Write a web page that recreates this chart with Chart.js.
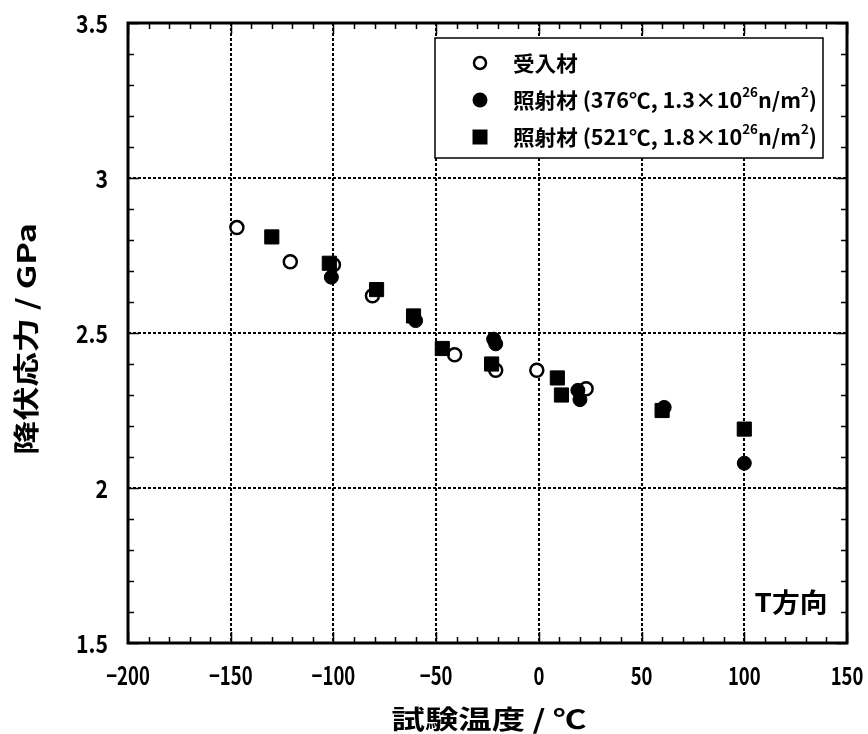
<!DOCTYPE html>
<html>
<head>
<meta charset="utf-8">
<script src="https://cdn.jsdelivr.net/npm/chart.js@4"></script>
<style>
  html, body { margin: 0; padding: 0; background: #fff; }
  canvas { display: block; }
</style>
</head>
<body>
<canvas id="chart" width="868" height="734"></canvas>
<script>
// ── Data (test temperature °C, yield stress GPa) ──
const asReceivedX = [-147, -121, -100, -81, -41, -21, -1, 23];
const asReceivedY = [2.84, 2.73, 2.72, 2.62, 2.43, 2.38, 2.38, 2.32];

const irr376X = [-101, -60, -22, -21, 19, 20, 61, 100];
const irr376Y = [2.68, 2.54, 2.48, 2.465, 2.315, 2.285, 2.26, 2.08];

const irr521X = [-130, -102, -79, -61, -47, -23, 9, 11, 60, 100];
const irr521Y = [2.81, 2.725, 2.64, 2.555, 2.45, 2.40, 2.355, 2.30, 2.25, 2.19];

const xTicks = [-200, -150, -100, -50, 0, 50, 100, 150];
const xTickLabels = ['−200', '−150', '−100', '−50', '0', '50', '100', '150'];
const yTicks = [1.5, 2, 2.5, 3, 3.5];
const yTickLabels = ['1.5', '2', '2.5', '3', '3.5'];

const xTitle = '試験温度 / ℃';
const yTitle = '降伏応力 / GPa';
const noteText = 'T方向';

// legend rows: [text, isSuperscript]
const legendRows = [
  [['受入材', false]],
  [['照射材 (376℃, 1.3×10', false], ['26', true], ['n/m', false], ['2', true], [')', false]],
  [['照射材 (521℃, 1.8×10', false], ['26', true], ['n/m', false], ['2', true], [')', false]],
];
const legendMarkers = ['open', 'filled', 'square'];

const JP = "'Noto Sans CJK JP', sans-serif";

const toPoints = (xs, ys) => xs.map((x, i) => ({ x, y: ys[i] }));

// ── Helpers ────────────────────────────────────────────────────────
function fitText(ctx, text, cx, cy, width, rot) {
  ctx.save();
  ctx.translate(cx, cy);
  ctx.rotate(rot || 0);
  const w = ctx.measureText(text).width;
  ctx.scale(width / w, 1);
  ctx.fillText(text, 0, 0);
  ctx.restore();
}

// narrow text, like the condensed digits of the original
function narrowText(ctx, text, x, y, sx) {
  ctx.save();
  ctx.translate(x, y);
  ctx.scale(sx, 1);
  ctx.fillText(text, 0, 0);
  ctx.restore();
}

function richWidth(ctx, segs, size) {
  let w = 0;
  segs.forEach(([t, sup]) => {
    ctx.font = `bold ${sup ? Math.round(size * 0.6) : size}px ${JP}`;
    w += ctx.measureText(t).width;
  });
  return w;
}

function drawRich(ctx, segs, x, y, size) {
  segs.forEach(([t, sup]) => {
    ctx.font = `bold ${sup ? Math.round(size * 0.6) : size}px ${JP}`;
    ctx.fillText(t, x, sup ? y - size * 0.38 : y);
    x += ctx.measureText(t).width;
  });
}

function drawMarker(ctx, kind, x, y) {
  ctx.save();
  ctx.fillStyle = '#000';
  ctx.strokeStyle = '#000';
  ctx.lineWidth = 2.5;
  ctx.beginPath();
  if (kind === 'open') {
    ctx.arc(x, y, 6, 0, Math.PI * 2);
    ctx.stroke();
  } else if (kind === 'filled') {
    ctx.arc(x, y, 7.5, 0, Math.PI * 2);
    ctx.fill();
  } else {
    ctx.rect(x - 7.5, y - 7.5, 15, 15);
    ctx.fill();
  }
  ctx.restore();
}

// ── Frame, inward ticks, tick labels, legend and titles ────────────
const decor = {
  id: 'decor',
  beforeDatasetsDraw(chart) {
    const { ctx, chartArea: a, scales: { x, y } } = chart;
    ctx.save();
    ctx.strokeStyle = '#000';
    ctx.lineWidth = 1.5;
    ctx.beginPath();
    for (let i = 0; i <= 35; i++) {
      const v = -200 + i * 10;
      const px = Math.round(x.getPixelForValue(v)) + 0.5;
      const len = v % 50 === 0 ? 11 : 6;
      ctx.moveTo(px, a.bottom); ctx.lineTo(px, a.bottom - len);
      ctx.moveTo(px, a.top); ctx.lineTo(px, a.top + len);
    }
    for (let i = 0; i <= 20; i++) {
      const v = 1.5 + i * 0.1;
      const py = Math.round(y.getPixelForValue(v)) + 0.5;
      const len = i % 5 === 0 ? 11 : 6;
      ctx.moveTo(a.left, py); ctx.lineTo(a.left + len, py);
      ctx.moveTo(a.right, py); ctx.lineTo(a.right - len, py);
    }
    ctx.stroke();
    ctx.lineWidth = 3;
    ctx.strokeRect(a.left, a.top, a.right - a.left, a.bottom - a.top);

    // tick labels
    ctx.fillStyle = '#000';
    ctx.font = `bold 25px ${JP}`;
    ctx.textBaseline = 'middle';
    ctx.textAlign = 'center';
    xTicks.forEach((v, i) => narrowText(ctx, xTickLabels[i], x.getPixelForValue(v), a.bottom + 32, 0.74));
    ctx.textAlign = 'right';
    yTicks.forEach((v, i) => narrowText(ctx, yTickLabels[i], a.left - 20, y.getPixelForValue(v), 0.85));
    ctx.restore();
  },
  afterDraw(chart) {
    const { ctx } = chart;
    ctx.save();

    // legend box
    const bx = 435, by = 38, bw = 388, bh = 120;
    ctx.fillStyle = '#fff';
    ctx.fillRect(bx, by, bw, bh);
    ctx.strokeStyle = '#000';
    ctx.lineWidth = 1.5;
    ctx.strokeRect(bx, by, bw, bh);
    ctx.fillStyle = '#000';
    ctx.textAlign = 'left';
    ctx.textBaseline = 'middle';
    const size = 21;
    const sx = 304 / richWidth(ctx, legendRows[1], size);
    legendRows.forEach((segs, i) => {
      const cy = 63 + i * 37;
      drawMarker(ctx, legendMarkers[i], 480, cy);
      ctx.save();
      ctx.translate(513, cy);
      ctx.scale(sx, 1);
      drawRich(ctx, segs, 0, 0, size);
      ctx.restore();
    });

    // axis titles and note
    ctx.textAlign = 'center';
    ctx.textBaseline = 'middle';
    ctx.font = `bold 26px ${JP}`;
    fitText(ctx, xTitle, 489, 719, 195, 0);
    fitText(ctx, yTitle, 26, 339, 232, -Math.PI / 2);
    fitText(ctx, noteText, 791, 602, 73, 0);
    ctx.restore();
  }
};

// ── Chart ──────────────────────────────────────────────────────────
new Chart(document.getElementById('chart'), {
  type: 'scatter',
  data: {
    datasets: [
      {
        label: '受入材',
        data: toPoints(asReceivedX, asReceivedY),
        pointStyle: 'circle',
        pointRadius: 6.5,
        backgroundColor: '#fff',
        borderColor: '#000',
        borderWidth: 2.5,
        order: 3,
      },
      {
        label: '照射材 (376℃)',
        data: toPoints(irr376X, irr376Y),
        pointStyle: 'circle',
        pointRadius: 7,
        backgroundColor: '#000',
        borderColor: '#000',
        borderWidth: 1,
        order: 2,
      },
      {
        label: '照射材 (521℃)',
        data: toPoints(irr521X, irr521Y),
        pointStyle: 'rect',
        pointRadius: 10,
        backgroundColor: '#000',
        borderColor: '#000',
        borderWidth: 1,
        order: 1,
      },
    ]
  },
  options: {
    responsive: false,
    animation: false,
    layout: { padding: { left: 0, top: 23, right: 21, bottom: 0 } },
    plugins: { legend: { display: false }, tooltip: { enabled: false } },
    scales: {
      x: {
        type: 'linear',
        min: -200,
        max: 150,
        afterBuildTicks: s => { s.ticks = xTicks.map(v => ({ value: v })); },
        afterFit: s => { s.height = 91; },
        ticks: { display: false },
        grid: { color: '#000', lineWidth: 2, drawTicks: false },
        border: { display: false, dash: [3, 2] },
      },
      y: {
        type: 'linear',
        min: 1.5,
        max: 3.5,
        afterBuildTicks: s => { s.ticks = yTicks.map(v => ({ value: v })); },
        afterFit: s => { s.width = 128; },
        ticks: { display: false },
        grid: { color: '#000', lineWidth: 2, drawTicks: false },
        border: { display: false, dash: [3, 2] },
      }
    }
  },
  plugins: [decor]
});
</script>
</body>
</html>
